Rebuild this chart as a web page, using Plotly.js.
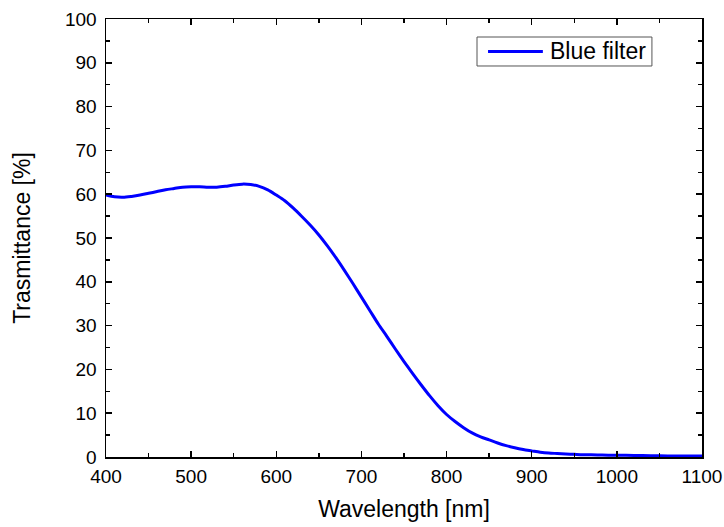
<!DOCTYPE html>
<html>
<head>
<meta charset="utf-8">
<script src="https://cdn.plot.ly/plotly-3.0.1.min.js"></script>
<style>html,body{margin:0;padding:0;background:#fff;}#chart{width:724px;height:527px;}</style>
</head>
<body>
<div id="chart"></div>
<script>
const wavelength = [400,410,420,430,440,450,460,470,480,490,500,510,520,530,540,550,560,570,580,590,600,610,620,630,640,650,660,670,680,690,700,710,720,730,740,750,760,770,780,790,800,810,820,830,840,850,860,870,880,890,900,910,920,930,940,950,960,970,980,990,1000,1020,1040,1060,1080,1100];
const transmittance = [59.8,59.4,59.3,59.5,59.8,60.2,60.6,61.0,61.3,61.6,61.7,61.7,61.6,61.6,61.8,62.1,62.3,62.2,61.8,61.0,59.8,58.5,56.8,54.9,52.9,50.7,48.2,45.5,42.6,39.6,36.5,33.4,30.3,27.5,24.6,21.8,19.1,16.5,14.0,11.7,9.7,8.1,6.7,5.5,4.6,3.9,3.2,2.6,2.1,1.7,1.4,1.1,0.9,0.8,0.7,0.6,0.5,0.5,0.45,0.4,0.4,0.35,0.3,0.25,0.2,0.2];
const seriesName = 'Blue filter';
const xTitle = 'Wavelength [nm]';
const yTitle = 'Trasmittance [%]';

const font = 'Arial, "Liberation Sans", sans-serif';
const lineColor = '#0000ff';
const axisCommon = {
  showline: true, linecolor: '#000', linewidth: 1.5, mirror: 'ticks',
  ticks: 'inside', ticklen: 6, tickwidth: 1.5, tickcolor: '#000',
  showgrid: false, zeroline: false,
  tickfont: {family: font, size: 19, color: '#000'},
  minor: {ticks: 'inside', ticklen: 4, tickwidth: 1.5, tickcolor: '#000', showgrid: false}
};
const data = [{
  x: wavelength, y: transmittance, type: 'scatter', mode: 'lines', name: seriesName,
  line: {color: lineColor, width: 3, shape: 'spline', smoothing: 0.8}
}];
// legend box (drawn manually to match the compact reference legend)
const lgX0 = 0.6225, lgX1 = 0.916, lgY0 = 0.8927, lgY1 = 0.9589;
const lgYm = (lgY0 + lgY1) / 2;
const layout = {
  width: 724, height: 527,
  margin: {l: 106, r: 22, t: 19, b: 70},
  paper_bgcolor: '#fff', plot_bgcolor: '#fff',
  showlegend: false,
  shapes: [
    {type: 'rect', xref: 'paper', yref: 'paper', x0: lgX0, x1: lgX1, y0: lgY0, y1: lgY1,
     line: {color: '#555', width: 1}, fillcolor: '#fff', layer: 'above'},
    {type: 'line', xref: 'paper', yref: 'paper', x0: 0.641, x1: 0.733, y0: lgYm, y1: lgYm,
     line: {color: lineColor, width: 3}, layer: 'above'}
  ],
  annotations: [
    {xref: 'paper', yref: 'paper', x: 0.7416, y: lgYm, xanchor: 'left', yanchor: 'middle',
     text: seriesName, showarrow: false, font: {family: font, size: 23, color: '#000'}}
  ],
  xaxis: Object.assign({}, axisCommon, {
    range: [400, 1100], dtick: 100, tick0: 400, ticklabelstandoff: 2,
    minor: Object.assign({}, axisCommon.minor, {dtick: 50}),
    title: {text: xTitle, font: {family: font, size: 23, color: '#000'}, standoff: 14}
  }),
  yaxis: Object.assign({}, axisCommon, {
    range: [0, 100], dtick: 10, tick0: 0, ticklabelstandoff: 4,
    minor: Object.assign({}, axisCommon.minor, {dtick: 5}),
    title: {text: yTitle, font: {family: font, size: 23, color: '#000'}, standoff: 28}
  })
};
Plotly.newPlot('chart', data, layout, {staticPlot: true, displayModeBar: false});
</script>
</body>
</html>
